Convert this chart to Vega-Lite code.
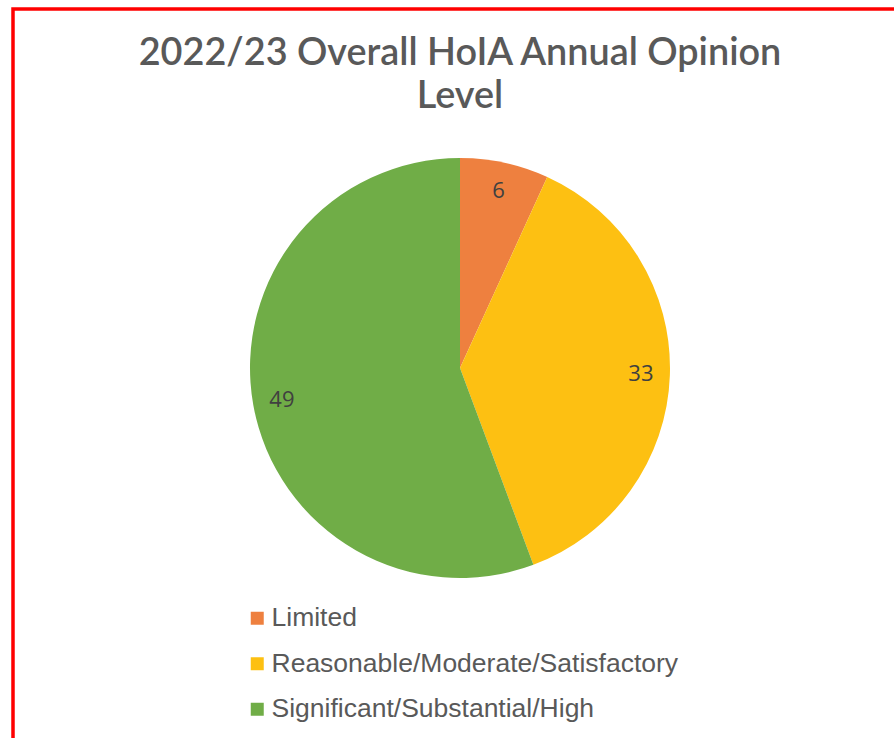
{
  "$schema": "https://vega.github.io/schema/vega-lite/v6.json",
  "autosize": {"type": "none"},
  "padding": {"left": 13, "top": 9, "right": 0, "bottom": 0},
  "width": 894,
  "height": 760,
  "background": "white",
  "view": {"stroke": "#ff0000", "strokeWidth": 3.5, "fill": "white"},
  "config": {"view": {"stroke": "#ff0000", "strokeWidth": 3.5}},
  "title": {
    "text": ["2022/23 Overall HoIA Annual Opinion", "Level"],
    "font": "Lato",
    "fontSize": 37.8,
    "fontWeight": 600,
    "color": "#595959",
    "anchor": "middle",
    "frame": "group",
    "lineHeight": 43,
    "baseline": "top",
    "offset": -107
  },
  "data": {
    "values": [
      {"level": "Limited", "count": 6, "order": 1},
      {"level": "Reasonable/Moderate/Satisfactory", "count": 33, "order": 2},
      {"level": "Significant/Substantial/High", "count": 49, "order": 3}
    ]
  },
  "encoding": {
    "theta": {"field": "count", "type": "quantitative", "stack": true},
    "order": {"field": "order", "type": "quantitative"}
  },
  "layer": [
    {
      "mark": {"type": "arc", "outerRadius": 210, "yOffset": -21},
      "encoding": {
        "color": {
          "field": "level",
          "type": "nominal",
          "sort": ["Limited", "Reasonable/Moderate/Satisfactory", "Significant/Substantial/High"],
          "scale": {
            "domain": ["Limited", "Reasonable/Moderate/Satisfactory", "Significant/Substantial/High"],
            "range": ["#EE803F", "#FDC012", "#70AD47"]
          },
          "legend": {
            "title": null,
            "orient": "none",
            "legendX": 231,
            "legendY": 596,
            "direction": "vertical",
            "symbolType": "square",
            "symbolSize": 169,
            "symbolStrokeWidth": 0,
            "symbolOpacity": 1,
            "labelFont": "Liberation Sans",
            "labelFontSize": 26.5,
            "labelColor": "#595959",
            "labelOffset": 1,
            "rowPadding": 18.5,
            "padding": 0,
            "labelLimit": 600
          }
        }
      }
    },
    {
      "mark": {"type": "text", "radius": 181, "yOffset": -21, "font": "Open Sans", "fontSize": 22, "color": "#404040"},
      "encoding": {"text": {"field": "count", "type": "quantitative"}}
    }
  ]
}
